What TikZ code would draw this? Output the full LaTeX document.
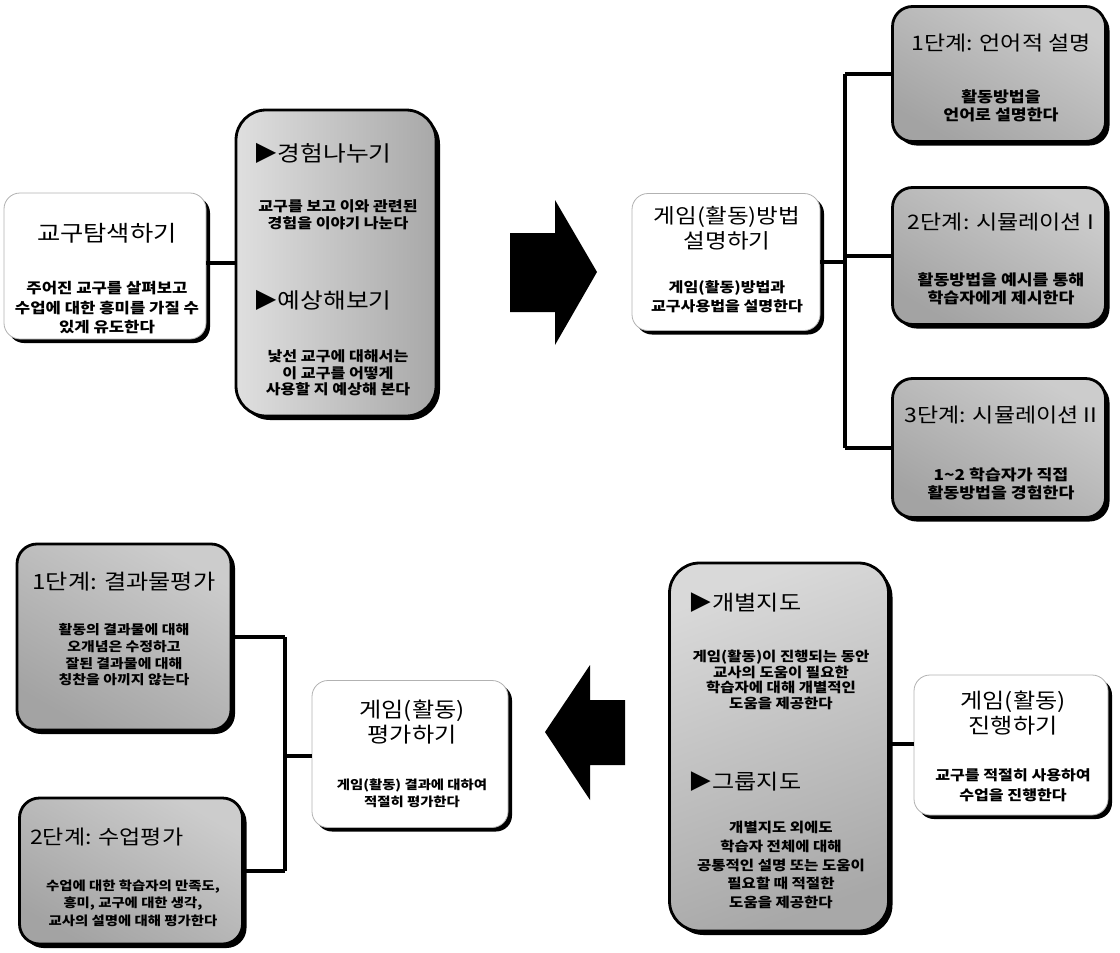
\documentclass[tikz,border=0pt]{standalone}
\usepackage{fontspec}
\setmainfont{Noto Sans CJK KR}[FakeStretch=1.15]
\usetikzlibrary{shadows}
\begin{document}
\begin{tikzpicture}[x=1pt,y=-1pt,
  shadowk/.style={drop shadow={shadow xshift=4pt,shadow yshift=-4pt,fill=black,opacity=1}},
  wbox/.style={draw=gray!60,line width=0.8pt,fill=white,rounded corners=16pt,shadowk,inner sep=0pt},
  gbox/.style={draw=black,line width=2.8pt,rounded corners=20pt,top color=gray!40,bottom color=gray!72,shading angle=-30,shadowk,inner sep=0pt},
  conn/.style={line width=4.5pt,black},
  ttl/.style={font=\fontsize{21}{25}\selectfont,align=center,inner sep=0pt},
  gttl/.style={font=\fontsize{20}{23}\selectfont,inner sep=0pt},
  sub/.style={font=\bfseries\fontsize{14.5}{19}\selectfont,align=center,inner sep=0pt},
  gsub/.style={font=\bfseries\fontsize{14.5}{17}\selectfont,align=center,inner sep=0pt},
  arr/.style={fill=black}]
\useasboundingbox (0,0) rectangle (1120,953);

% ---- boxes ----
\node[wbox,minimum width=202pt,minimum height=146pt] (A) at (105,266) {};
\node[gbox,rounded corners=30pt,minimum width=200pt,minimum height=306pt,left color=gray!25,right color=gray!68] (B) at (336,263) {};
\node[wbox,minimum width=188pt,minimum height=137pt] (C) at (726,262) {};
\node[gbox,minimum width=213pt,minimum height=135pt] (D1) at (999,74) {};
\node[gbox,minimum width=213pt,minimum height=137pt] (D2) at (999,256) {};
\node[gbox,minimum width=213pt,minimum height=139pt] (D3) at (999,448) {};
\node[wbox,minimum width=194pt,minimum height=140pt] (E) at (1011,745) {};
\node[gbox,rounded corners=30pt,minimum width=219pt,minimum height=368pt,top color=gray!30,bottom color=gray!68,shading angle=20] (F) at (779,747) {};
\node[wbox,minimum width=196pt,minimum height=147pt] (G) at (410,754) {};
\node[gbox,minimum width=214pt,minimum height=186pt] (H1) at (124,637) {};
\node[gbox,minimum width=223pt,minimum height=146pt] (H2) at (131,871) {};

% ---- connectors ----
\draw[conn] (A.east |- 0,263) -- (B.west |- 0,263);
\coordinate (J1) at (845,262);
\draw[conn] (C.east |- J1) -- (J1);
\draw[conn] (J1 |- D1.west) -- (J1 |- D3.west);
\draw[conn] (J1 |- D1.west) -- (D1.west);
\draw[conn] (J1 |- D2.west) -- (D2.west);
\draw[conn] (J1 |- D3.west) -- (D3.west);
\draw[conn] (F.east |- 0,744) -- (E.west |- 0,744);
\coordinate (J2) at (285,756);
\draw[conn] (J2 |- H1.east) -- (J2 |- H2.east);
\draw[conn] (J2 |- H1.east) -- (H1.east);
\draw[conn] (J2 |- H2.east) -- (H2.east);
\draw[conn] (J2) -- (G.west |- J2);

% ---- big arrows ----
\fill[arr] (510,233) -- (555,233) -- (555,200) -- (597,272) -- (555,345) -- (555,312) -- (510,312) -- cycle;
\fill[arr] (625,700) -- (590,700) -- (590,665) -- (545,732) -- (590,800) -- (590,765) -- (625,765) -- cycle;

% ---- texts ----
\node[ttl,font=\fontsize{22}{25}\selectfont] (At) at (107,233) {교구탐색하기};
\node[sub,font=\bfseries\fontsize{14.5}{19.5}\selectfont] (As) at (107,308) {주어진 교구를 살펴보고\\수업에 대한 흥미를 가질 수\\있게 유도한다};

\node[gttl,font=\fontsize{21.5}{24}\selectfont,anchor=west] (Bt1) at (253,153) {▶경험나누기};
\node[gsub,font=\bfseries\fontsize{14}{16.5}\selectfont] (Bs1) at (338,215) {교구를 보고 이와 관련된\\경험을 이야기 나눈다};
\node[gttl,font=\fontsize{21.5}{24}\selectfont,anchor=west] (Bt2) at (253,300) {▶예상해보기};
\node[gsub,font=\bfseries\fontsize{14}{16.5}\selectfont] (Bs2) at (338,373) {낯선 교구에 대해서는\\이 교구를 어떻게\\사용할 지 예상해 본다};

\node[ttl,font=\fontsize{20.5}{25}\selectfont] (Ct) at (727,228) {게임(활동)방법\\설명하기};
\node[sub,font=\bfseries\fontsize{14}{19}\selectfont] (Cs) at (727,297) {게임(활동)방법과\\교구사용법을 설명한다};

\node[gttl] (D1t) at (1001,43) {1단계: 언어적 설명};
\node[gsub,font=\bfseries\fontsize{15}{18}\selectfont] (D1s) at (1001,106) {활동방법을\\언어로 설명한다};
\node[gttl] (D2t) at (1001,222) {2단계: 시뮬레이션 I};
\node[gsub,font=\bfseries\fontsize{15}{18}\selectfont] (D2s) at (1001,289) {활동방법을 예시를 통해\\학습자에게 제시한다};
\node[gttl] (D3t) at (1001,415) {3단계: 시뮬레이션 II};
\node[gsub,font=\bfseries\fontsize{15}{18}\selectfont] (D3s) at (1001,484) {1\textasciitilde2 학습자가 직접\\활동방법을 경험한다};

\node[ttl] (Et) at (1013,713) {게임(활동)\\진행하기};
\node[sub,font=\bfseries\fontsize{14}{20}\selectfont] (Es) at (1013,785) {교구를 적절히 사용하여\\수업을 진행한다};

\node[gttl,font=\fontsize{21}{23}\selectfont,anchor=west] (Ft1) at (688,603) {▶개별지도};
\node[gsub,font=\bfseries\fontsize{13.5}{15.5}\selectfont] (Fs1) at (781,680) {게임(활동)이 진행되는 동안\\교사의 도움이 필요한\\학습자에 대해 개별적인\\도움을 제공한다};
\node[gttl,font=\fontsize{21}{23}\selectfont,anchor=west] (Ft2) at (688,782) {▶그룹지도};
\node[gsub,font=\bfseries\fontsize{13.5}{18.7}\selectfont] (Fs2) at (781,865) {개별지도 외에도\\학습자 전체에 대해\\공통적인 설명 또는 도움이\\필요할 때 적절한\\도움을 제공한다};

\node[ttl] (Gt) at (412,722) {게임(활동)\\평가하기};
\node[sub,font=\bfseries\fontsize{12.5}{17}\selectfont] (Gs) at (412,793) {게임(활동) 결과에 대하여\\적절히 평가한다};

\node[gttl,font=\fontsize{21}{23}\selectfont] (H1t) at (124,582) {1단계: 결과물평가};
\node[gsub,font=\bfseries\fontsize{13}{16.7}\selectfont] (H1s) at (124,655) {활동의 결과물에 대해\\오개념은 수정하고\\잘된 결과물에 대해\\칭찬을 아끼지 않는다};
\node[gttl,anchor=west] (H2t) at (30,837) {2단계: 수업평가};
\node[gsub,font=\bfseries\fontsize{12.5}{17.5}\selectfont] (H2s) at (133,903) {수업에 대한 학습자의 만족도,\\흥미, 교구에 대한 생각,\\교사의 설명에 대해 평가한다};
\end{tikzpicture}
\end{document}
